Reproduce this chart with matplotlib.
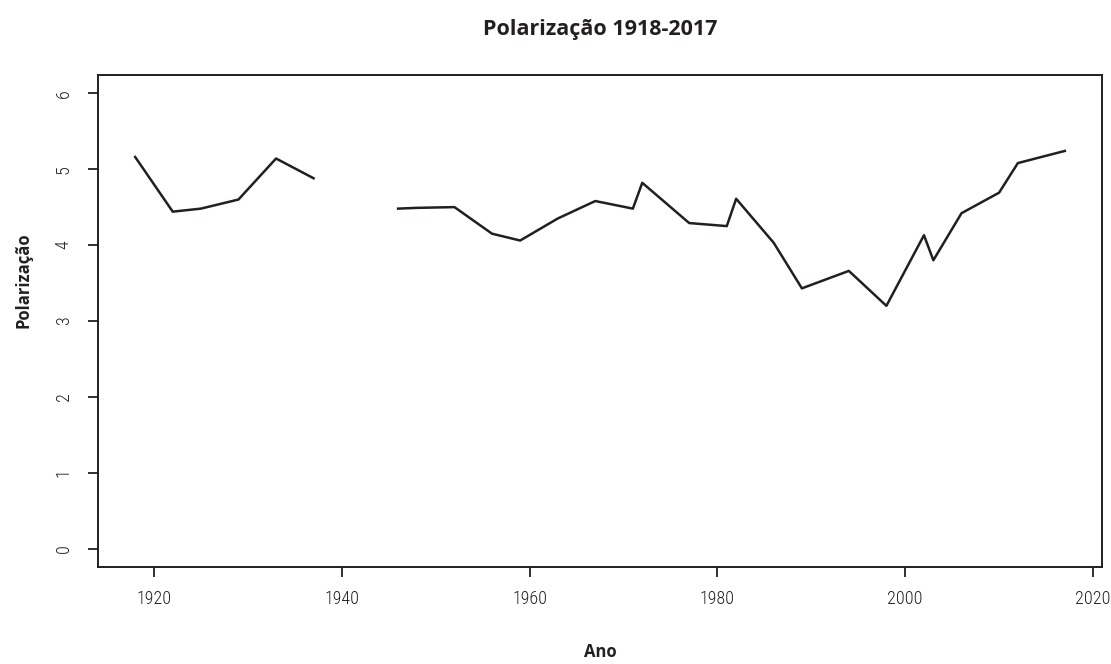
import numpy as np
import matplotlib
matplotlib.use("Agg")
import matplotlib.pyplot as plt
from matplotlib import font_manager

# Election years and polarization index (NaN breaks the line over the war gap)
years = [1918, 1922, 1925, 1929, 1933, 1937, 1941,
         1946, 1948, 1952, 1956, 1959, 1963, 1967, 1971, 1972,
         1977, 1981, 1982, 1986, 1989, 1994, 1998, 2002, 2003,
         2006, 2010, 2012, 2017]
polarizacao = [5.16, 4.44, 4.48, 4.60, 5.14, 4.88, np.nan,
               4.48, 4.49, 4.50, 4.15, 4.06, 4.35, 4.58, 4.48, 4.82,
               4.29, 4.25, 4.61, 4.03, 3.43, 3.66, 3.20, 4.13, 3.80,
               4.42, 4.69, 5.08, 5.24]
y_ticks = [0, 1, 2, 3, 4, 5, 6]
x_ticks = [1920, 1940, 1960, 1980, 2000, 2020]

installed = {f.name for f in font_manager.fontManager.ttflist}
tick_font = next((n for n in ['Roboto Condensed', 'Liberation Sans Narrow']
                  if n in installed), 'DejaVu Sans')
bold_font = 'Open Sans' if 'Open Sans' in installed else 'DejaVu Sans'

fig = plt.figure(figsize=(11.11, 6.64), dpi=100)
W, H = 1111, 664
left, right, top, bottom = 98, 1102, 75, 567
ax = fig.add_axes([left / W, 1 - bottom / H, (right - left) / W, (bottom - top) / H])

ax.plot(years, polarizacao, color='#231f20', lw=1.8)

# R-style 4% padding around the data range
x0, x1 = 1918, 2017
ax.set_xlim(x0 - 0.04 * (x1 - x0), x1 + 0.04 * (x1 - x0))
ax.set_ylim(-0.24, 6.24)

ax.set_xticks(x_ticks)
ax.set_yticks(y_ticks)
ax.set_xticklabels([str(t) for t in x_ticks], fontfamily=tick_font,
                   fontweight='light', fontsize=13, color='#231f20')
ax.set_yticklabels([str(t) for t in y_ticks], fontfamily=tick_font,
                   fontweight='light', fontsize=13, color='#231f20',
                   rotation=90, va='center')
ax.tick_params(axis='both', length=7.2, width=1.3, color='#231f20')
ax.tick_params(axis='x', pad=9)
ax.tick_params(axis='y', pad=11)
for s in ax.spines.values():
    s.set_linewidth(1.4)
    s.set_color('#231f20')

cx = (left + right) / 2 / W
fig.text(cx, 1 - 29 / H, 'Polarização 1918-2017', ha='center', va='center',
         fontfamily=bold_font, fontweight='bold', fontsize=15.5, color='#231f20')
fig.text(cx, 1 - 652 / H, 'Ano', ha='center', va='center',
         fontfamily=bold_font, fontweight='bold', fontsize=12, color='#231f20')
fig.text(23 / W, 1 - 280 / H, 'Polarização', ha='center',
         va='center', rotation=90, fontfamily=bold_font, fontweight='bold',
         fontsize=12, color='#231f20')

fig.savefig('out.png', dpi=100)
